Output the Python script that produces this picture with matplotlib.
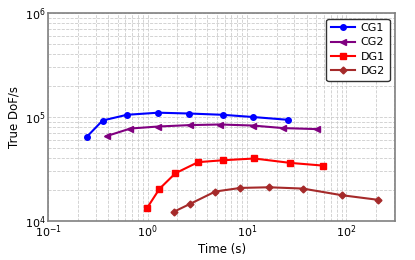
#!/usr/bin/env python3
import matplotlib
matplotlib.use("Agg")
import matplotlib.pyplot as plt

# Time (s) and true DoF/s for each method
cg1_time = [0.245, 0.353, 0.62, 1.28, 2.64, 5.7, 11.5, 25.8]
cg1_dofs = [64500, 92500, 105000, 110000, 108000, 105000, 100000, 94000]

cg2_time = [0.387, 0.673, 1.28, 2.68, 5.36, 11.4, 23.3, 50.4]
cg2_dofs = [65500, 77500, 81000, 83600, 84700, 82800, 78200, 76500]

dg1_time = [0.993, 1.32, 1.91, 3.23, 5.79, 11.9, 27.3, 58.3]
dg1_dofs = [13400, 20400, 28800, 36800, 38400, 39900, 36200, 34100]

dg2_time = [1.85, 2.68, 4.81, 8.61, 16.7, 36.6, 90.2, 207]
dg2_dofs = [12300, 14600, 19200, 20800, 21100, 20500, 17700, 16000]


def main():
    fig = plt.figure(figsize=(4.15, 2.6), dpi=100)
    ax = fig.add_axes([0.116, 0.15, 0.836, 0.80])

    ax.plot(cg1_time, cg1_dofs, marker='o', ms=4, lw=1.5, color='blue', label='CG1')
    ax.plot(cg2_time, cg2_dofs, marker='<', ms=4, lw=1.5, color='purple', label='CG2')
    ax.plot(dg1_time, dg1_dofs, marker='s', ms=4, lw=1.5, color='red', label='DG1')
    ax.plot(dg2_time, dg2_dofs, marker='D', ms=3.5, lw=1.5, color='brown', label='DG2')

    ax.set_xscale('log')
    ax.set_yscale('log')
    ax.set_xlim(0.1, 310)
    ax.set_ylim(1e4, 1e6)
    ax.set_xlabel('Time (s)', fontsize=8.5, labelpad=2)
    ax.set_ylabel('True DoF/s', fontsize=8.5, labelpad=3)
    ax.tick_params(which='both', labelsize=8, length=0, pad=2)
    ax.grid(True, which='both', ls='--', lw=0.6, color='#cccccc')
    for s in ax.spines.values():
        s.set_color('#808080')
        s.set_linewidth(1.2)
    leg = ax.legend(loc='upper right', fontsize=8, fancybox=True, framealpha=1,
                    handlelength=2.2, handletextpad=0.5, borderpad=0.4,
                    labelspacing=0.4)
    leg.get_frame().set_edgecolor('#333333')

    fig.savefig('out.png', dpi=100)


if __name__ == "__main__":
    main()
